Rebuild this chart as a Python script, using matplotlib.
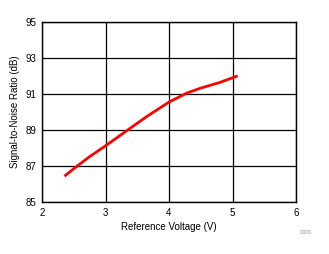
import matplotlib
matplotlib.use("Agg")
import matplotlib.pyplot as plt

vref = [2.37, 2.5, 2.75, 3.0, 3.33, 3.65, 4.0, 4.28, 4.5, 4.8, 5.06]
snr = [86.48, 86.85, 87.52, 88.12, 88.95, 89.75, 90.55, 91.05, 91.33, 91.64, 91.98]
xticks = [2, 3, 4, 5, 6]
yticks = [85, 87, 89, 91, 93, 95]

plt.rcParams['font.family'] = ['Liberation Sans', 'DejaVu Sans']
fig = plt.figure(figsize=(3.29, 2.54), dpi=100)
ax = fig.add_axes([42/329, 1-202/254, (296-42)/329, (202-22)/254])
ax.plot(vref, snr, color='#ff0000', lw=2)
ax.set_xlim(2, 6)
ax.set_ylim(85, 95)
ax.set_xticks(xticks)
ax.set_yticks(yticks)
ax.grid(True, color='black', lw=0.9)
ax.set_axisbelow(True)
ax.tick_params(length=0, labelsize=7, pad=4)
for s in ax.spines.values():
    s.set_linewidth(1.0)
ax.set_xlabel('Reference Voltage (V)', fontsize=7, labelpad=3)
ax.set_ylabel('Signal-to-Noise Ratio (dB)', fontsize=7, labelpad=4)
fig.text(305/329, 1-232/254, 'D008', fontsize=3.5, color='#999999', ha='center', va='center')
fig.savefig('out.png', dpi=100)
